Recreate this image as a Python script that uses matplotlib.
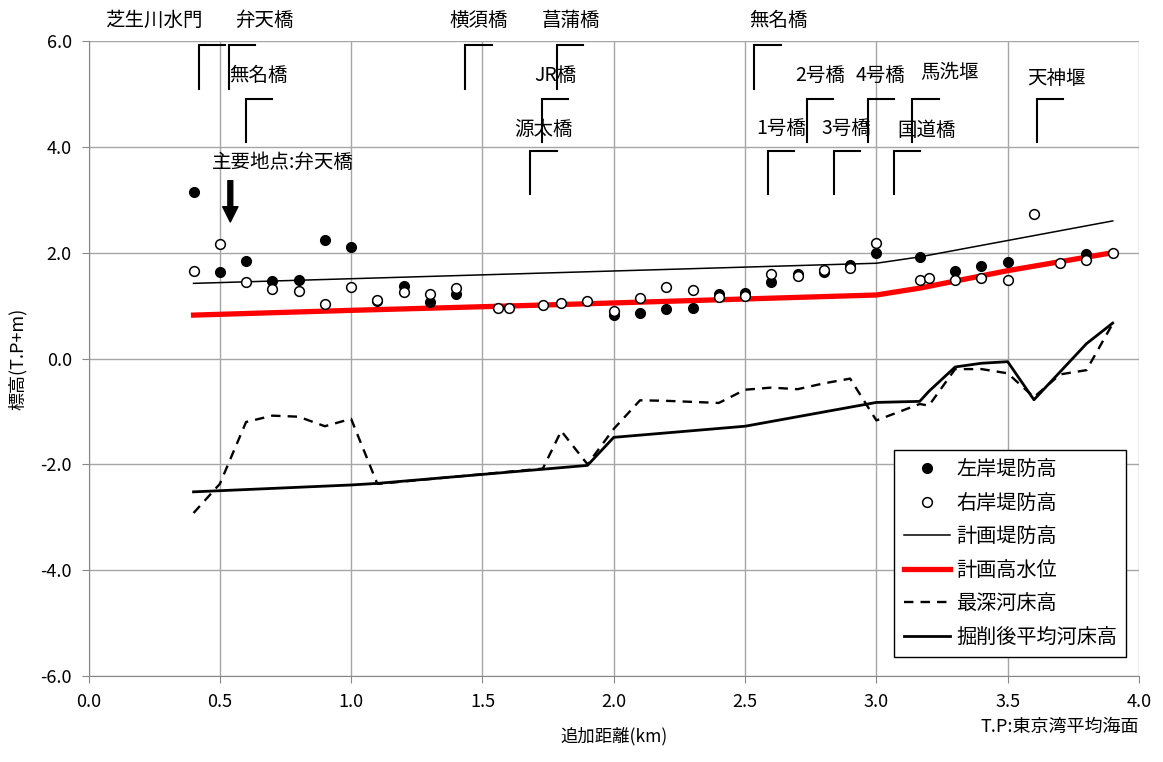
import numpy as np
import matplotlib
matplotlib.use("Agg")
import matplotlib.pyplot as plt
from matplotlib.ticker import FuncFormatter

plt.rcParams["font.family"] = ["Noto Sans CJK JP", "DejaVu Sans"]

# bank heights (km, T.P+m)
bank_km = [0.4, 0.5, 0.6, 0.7, 0.8, 0.9, 1.0, 1.1, 1.2, 1.3, 1.4, 1.56, 1.6, 1.73,
           1.8, 1.9, 2.0, 2.1, 2.2, 2.3, 2.4, 2.5, 2.6, 2.7, 2.8, 2.9, 3.0, 3.165,
           3.2, 3.3, 3.4, 3.5, 3.6, 3.7, 3.8, 3.9]
left_bank = [3.14, 1.63, 1.85, 1.46, 1.49, 2.23, 2.11, 1.08, 1.37, 1.06, 1.22, np.nan,
             np.nan, np.nan, np.nan, np.nan, 0.83, 0.86, 0.93, 0.96, 1.22, 1.24, 1.44,
             1.59, 1.64, 1.77, 2.00, 1.92, np.nan, 1.65, 1.74, 1.83, np.nan, np.nan,
             1.97, np.nan]
right_bank = [1.66, 2.17, 1.44, 1.32, 1.27, 1.03, 1.36, 1.10, 1.25, 1.22, 1.34, 0.945,
              0.96, 1.01, 1.04, 1.09, 0.89, 1.15, 1.35, 1.30, 1.16, 1.18, 1.60, 1.56,
              1.68, 1.71, 2.18, 1.49, 1.53, 1.49, 1.52, 1.49, 2.73, 1.81, 1.87, 1.99]

# planned levee height
levee_km = [0.4, 3.0, 3.165, 3.9]
levee = [1.42, 1.80, 1.92, 2.60]

# planned high water level
hwl_km = [0.4, 1.0, 1.8, 3.0, 3.165, 3.5, 3.9]
hwl = [0.82, 0.91, 1.02, 1.20, 1.33, 1.66, 2.00]

# deepest riverbed
deep_km = [0.4, 0.5, 0.6, 0.7, 0.8, 0.9, 1.0, 1.1, 1.73, 1.8, 1.9, 2.0, 2.1, 2.2, 2.3,
           2.4, 2.5, 2.6, 2.7, 2.8, 2.9, 3.0, 3.165, 3.2, 3.3, 3.4, 3.5, 3.6, 3.7,
           3.8, 3.9]
deep = [-2.92, -2.37, -1.20, -1.08, -1.10, -1.28, -1.14, -2.37, -2.08, -1.37, -2.00,
        -1.33, -0.79, -0.80, -0.82, -0.84, -0.59, -0.55, -0.58, -0.47, -0.38, -1.17,
        -0.86, -0.89, -0.20, -0.20, -0.28, -0.73, -0.30, -0.22, 0.66]

# mean riverbed after excavation
mean_km = [0.4, 1.0, 1.1, 1.9, 2.0, 2.5, 3.0, 3.165, 3.2, 3.3, 3.4, 3.5, 3.6, 3.8, 3.9]
mean_bed = [-2.52, -2.39, -2.36, -2.02, -1.49, -1.28, -0.83, -0.81, -0.62, -0.16,
            -0.09, -0.06, -0.78, 0.28, 0.67]

# bridges / structures: name, km, tier (1 top .. 3 bottom)
bridge_names = ["芝生川水門", "弁天橋", "無名橋", "横須橋", "菖蒲橋", "JR橋", "源太橋",
                "無名橋", "1号橋", "2号橋", "3号橋", "4号橋", "国道橋", "馬洗堰", "天神堰"]
bridge_km = [0.42, 0.534, 0.60, 1.435, 1.784, 1.725, 1.683,
             2.535, 2.588, 2.735, 2.837, 2.967, 3.066, 3.137, 3.61]
bridge_tier = [1, 1, 2, 1, 1, 2, 3, 1, 3, 2, 3, 2, 3, 2, 2]
# label anchor (km, elevation) for each name
label_x = [0.249, 0.668, 0.649, 1.485, 1.836, 1.776, 1.731,
           2.629, 2.636, 2.787, 2.885, 3.016, 3.191, 3.279, 3.684]
label_y = [6.39, 6.39, 5.35, 6.39, 6.39, 5.35, 4.33,
           6.39, 4.35, 5.35, 4.35, 5.35, 4.31, 5.41, 5.29]

tier_top = {1: 5.92, 2: 4.91, 3: 3.93}
tier_len = 0.82
arm = 0.10

fig = plt.figure(figsize=(11.63, 7.62), dpi=100)
ax = fig.add_axes([88.5 / 1163, 86 / 762, 1050.5 / 1163, 635 / 762])

ax.plot(levee_km, levee, color="black", lw=1.1, label="計画堤防高", zorder=3)
ax.plot(hwl_km, hwl, color="#ff0000", lw=3.8, label="計画高水位", zorder=3)
ax.plot(deep_km, deep, color="black", lw=1.7, ls=(0, (4, 3)), label="最深河床高", zorder=3)
ax.plot(mean_km, mean_bed, color="black", lw=2.0, label="掘削後平均河床高", zorder=3)
ax.plot(bank_km, left_bank, "o", color="black", ms=7, label="左岸堤防高", zorder=4)
ax.plot(bank_km, right_bank, "o", mfc="white", mec="black", mew=1.1, ms=7,
        label="右岸堤防高", zorder=5)

for km, tier in zip(bridge_km, bridge_tier):
    top = tier_top[tier]
    ax.plot([km, km, km + arm], [top - tier_len, top, top], color="black", lw=1.5,
            solid_joinstyle="miter", zorder=3)

for name, lx, ly in zip(bridge_names, label_x, label_y):
    ax.text(lx, ly, name, ha="center", va="center", fontsize=14, clip_on=False)

ax.text(0.741, 3.71, "主要地点:弁天橋", ha="center", va="center", fontsize=14)
ax.annotate("", xy=(0.54, 2.58), xytext=(0.54, 3.36),
            arrowprops=dict(width=3.5, headwidth=11, headlength=11, color="black", shrink=0))

ax.set_xlim(0, 4)
ax.set_ylim(-6, 6)
ax.set_xticks(np.arange(0, 4.01, 0.5))
ax.set_yticks(np.arange(-6, 6.01, 2))
fmt = FuncFormatter(lambda v, p: f"{v:.1f}")
ax.xaxis.set_major_formatter(fmt)
ax.yaxis.set_major_formatter(fmt)
ax.tick_params(direction="out", length=5, color="#888888", labelsize=13, pad=7)
ax.grid(True, color="#a6a6a6", lw=1.0)
ax.set_axisbelow(True)
for side in ["top", "right"]:
    ax.spines[side].set_visible(False)
for side in ["left", "bottom"]:
    ax.spines[side].set_color("#888888")

ax.set_xlabel("追加距離(km)", fontsize=12.5, labelpad=12)
ax.set_ylabel("標高(T.P+m)", fontsize=13, labelpad=10)
ax.text(1.0, -0.08, "T.P:東京湾平均海面", transform=ax.transAxes, ha="right",
        va="center", fontsize=13)

handles, labels = ax.get_legend_handles_labels()
order = [4, 5, 0, 1, 2, 3]
leg = ax.legend([handles[i] for i in order], [labels[i] for i in order],
                loc="lower right", bbox_to_anchor=(0.9876, 0.03), borderaxespad=0,
                fontsize=14.5, frameon=True, fancybox=False, edgecolor="black",
                framealpha=1, handlelength=2.3, labelspacing=0.62, borderpad=0.45,
                handletextpad=0.3)
leg.get_frame().set_linewidth(1.0)

fig.savefig("out.png", dpi=100)
